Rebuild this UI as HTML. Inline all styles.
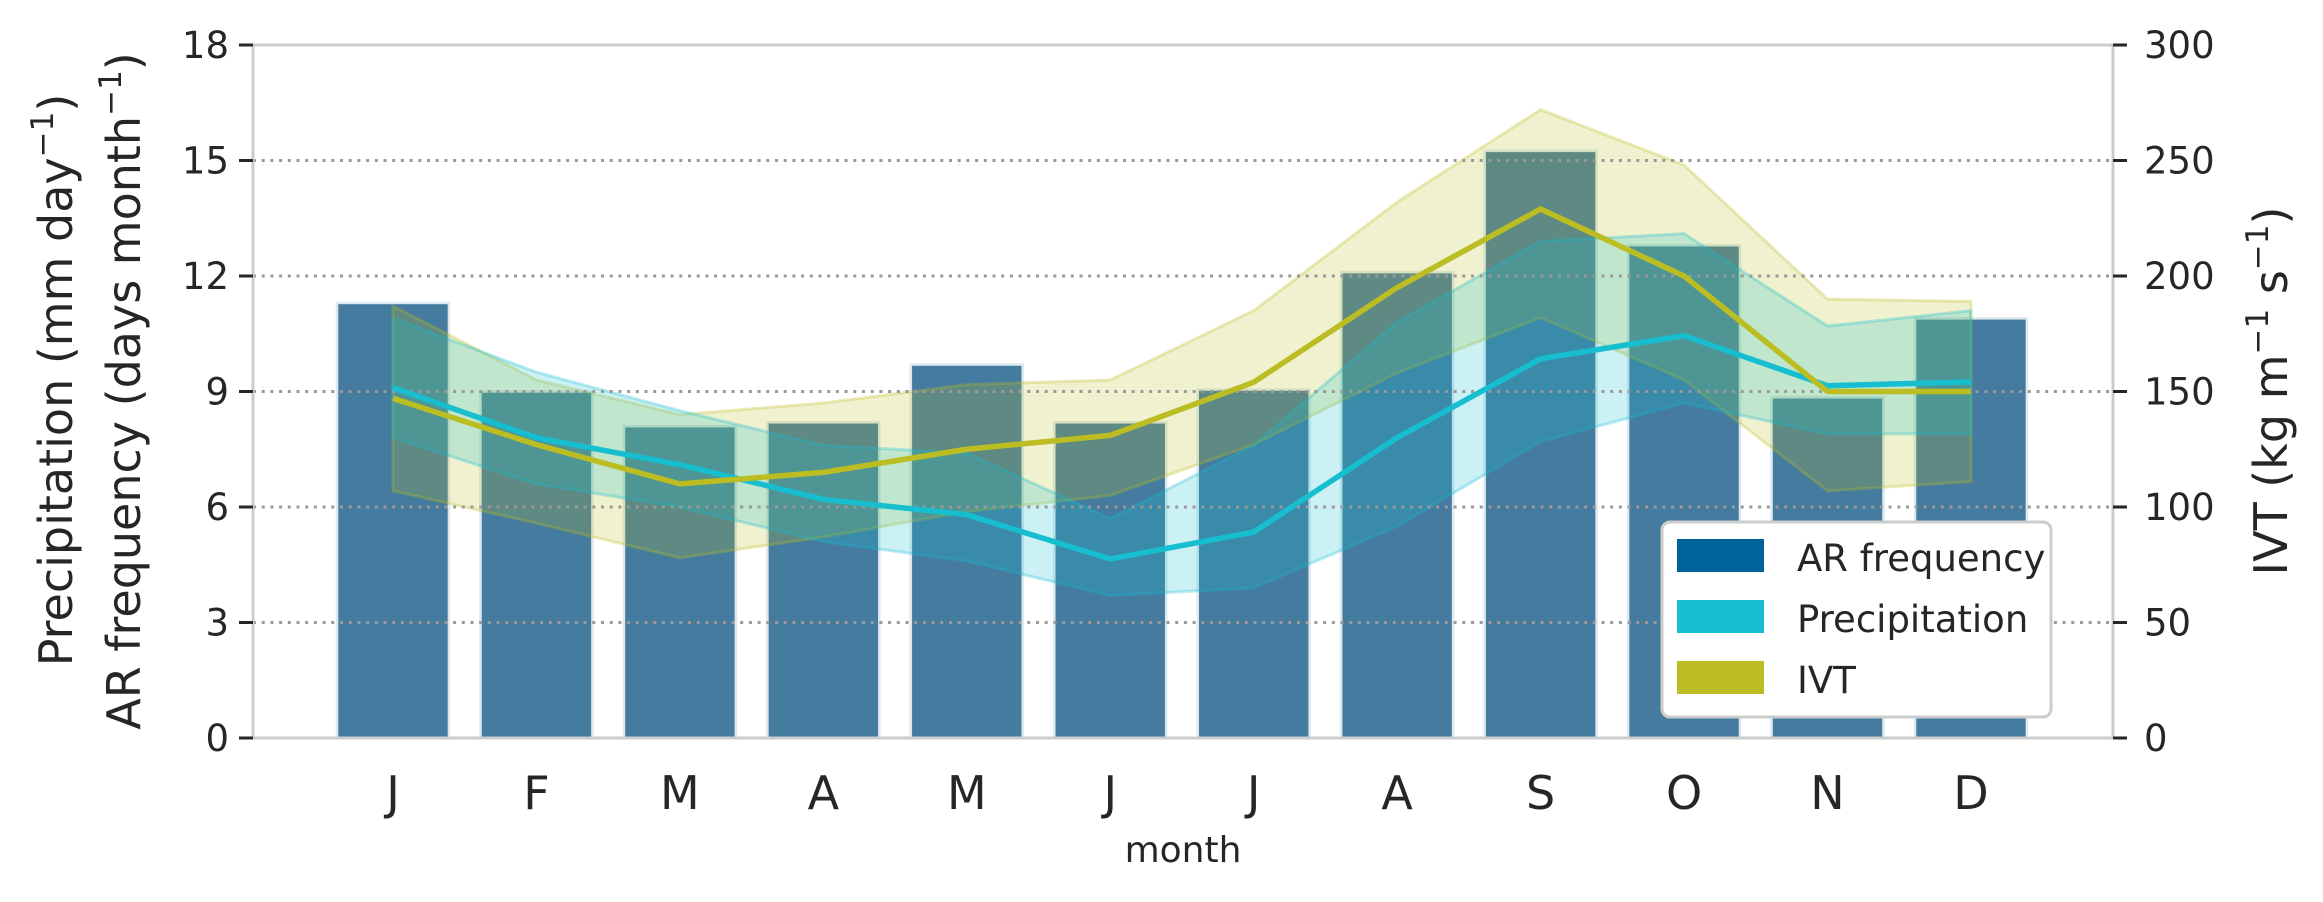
<!DOCTYPE html>
<html><head><meta charset="utf-8"><style>
html,body{margin:0;padding:0;background:#fff;}
svg{display:block;font-family:"DejaVu Sans","Liberation Sans",sans-serif;}
</style></head><body>
<svg id="chart" width="2323" height="902" viewBox="0 0 2323 902" xmlns="http://www.w3.org/2000/svg">
<rect x="0" y="0" width="2323" height="902" fill="#fff"/>
<g id="bars"></g>
<g id="fills"></g>
<g id="grid"></g>
<g id="lines"></g>
<rect x="253" y="45" width="1860" height="693" fill="none" stroke="#cccccc" stroke-width="3"/>
<g id="axes"></g>
<text x="1183" y="862" font-size="36" text-anchor="middle" fill="#262626">month</text>
<text transform="translate(72,380) rotate(-90)" font-size="46" text-anchor="middle" fill="#262626">Precipitation (mm day<tspan font-size="31" dy="-19">−1</tspan><tspan dy="19">)</tspan></text>
<text transform="translate(140,391) rotate(-90)" font-size="46" text-anchor="middle" fill="#262626">AR frequency (days month<tspan font-size="31" dy="-19">−1</tspan><tspan dy="19">)</tspan></text>
<text transform="translate(2287,391) rotate(-90)" font-size="46" text-anchor="middle" fill="#262626">IVT (kg m<tspan font-size="31" dy="-19">−1</tspan><tspan dy="19"> s</tspan><tspan font-size="31" dy="-19">−1</tspan><tspan dy="19">)</tspan></text>
<g>
<rect x="1662" y="522" width="389" height="195" rx="8" fill="#fff" stroke="#cccccc" stroke-width="3"/>
<rect x="1677" y="539" width="87" height="33" fill="#00629b"/>
<text x="1797" y="571" font-size="37" fill="#262626">AR frequency</text>
<rect x="1677" y="600" width="87" height="33" fill="#17becf"/>
<text x="1797" y="632" font-size="37" fill="#262626">Precipitation</text>
<rect x="1677" y="661" width="87" height="33" fill="#bcbd22"/>
<text x="1797" y="693" font-size="37" fill="#262626">IVT</text>
</g>
</svg>
<script>
const months = ["J","F","M","A","M","J","J","A","S","O","N","D"];
const arFreq = [11.3,9.0,8.1,8.2,9.7,8.2,9.05,12.1,15.25,12.8,8.85,10.9];
const precip = [9.1,7.8,7.1,6.2,5.8,4.65,5.35,7.8,9.85,10.45,9.15,9.25];
const precipHi = [10.9,9.5,8.5,7.6,7.4,5.7,7.6,10.8,12.9,13.1,10.7,11.1];
const precipLo = [7.8,6.6,6.0,5.1,4.6,3.7,3.9,5.5,7.7,8.7,7.9,7.9];
const ivt = [147,127,110,115,125,131,154,195,229,200,150,150];
const ivtHi = [187,155,140,145,153,155,185,232,272,248,190,189];
const ivtLo = [107,93,78,87,98,105,127,158,182,155,107,111];
const leftTicks = [0,3,6,9,12,15,18];
const rightTicks = [0,50,100,150,200,250,300];

const NS="http://www.w3.org/2000/svg";
const X0=393, DX=143.45, YB=738, YT=45;
const xs=i=>X0+i*DX;
const yL=v=>YB-(v/18)*(YB-YT);
const yR=v=>YB-(v/300)*(YB-YT);
function mk(tag,attrs,parent){const e=document.createElementNS(NS,tag);for(const k in attrs)e.setAttribute(k,attrs[k]);parent.appendChild(e);return e;}
const gB=document.getElementById('bars'),gF=document.getElementById('fills'),gG=document.getElementById('grid'),gL=document.getElementById('lines'),gA=document.getElementById('axes');
const bw=0.78*DX;
arFreq.forEach((v,i)=>{
  const r=mk('rect',{x:xs(i)-bw/2,y:yL(v),width:bw,height:YB-yL(v),fill:'#447b9f',stroke:'#dde8ef','stroke-width':2.5},gB);
  
  
});
function band(hi,lo,fy,color,name){
  let d='M'+hi.map((v,i)=>xs(i)+','+fy(v)).join(' L');
  for(let i=lo.length-1;i>=0;i--)d+=' L'+xs(i)+','+fy(lo[i]);
  d+='Z';
  const p=mk('path',{d:d,fill:color,'fill-opacity':0.22,stroke:color,'stroke-opacity':0.3,'stroke-width':3},gF);
  
  
}
band(ivtHi,ivtLo,yR,'#bcbd22','ivt-band');
band(precipHi,precipLo,yL,'#17becf','precipitation-band');
leftTicks.forEach(t=>{
  if(t>0&&t<18){const l=mk('line',{x1:253,x2:2113,y1:yL(t),y2:yL(t),stroke:'#999','stroke-width':3,'stroke-dasharray':'3 5.7'},gG);
  
  }
  const tk=mk('line',{x1:239,x2:253,y1:yL(t),y2:yL(t),stroke:'#262626','stroke-width':3},gA);
  
  
  const tx=mk('text',{x:229,y:yL(t)+13,'font-size':37,'text-anchor':'end',fill:'#262626'},gA);
  
  
  tx.textContent=t;
});
rightTicks.forEach(t=>{
  const tk=mk('line',{x1:2113,x2:2127,y1:yR(t),y2:yR(t),stroke:'#262626','stroke-width':3},gA);
  
  
  const tx=mk('text',{x:2144,y:yR(t)+13,'font-size':37,fill:'#262626'},gA);
  
  
  tx.textContent=t;
});
months.forEach((m,i)=>{
  const tx=mk('text',{x:xs(i),y:809,'font-size':46,'text-anchor':'middle',fill:'#262626'},gA);
  
  
  tx.textContent=m;
});
function line(vals,fy,color,name){
  const p=mk('polyline',{points:vals.map((v,i)=>xs(i)+','+fy(v)).join(' '),fill:'none',stroke:color,'stroke-width':5.5,'stroke-linejoin':'round'},gL);
  
  
}
line(precip,yL,'#17becf','precipitation-line');
line(ivt,yR,'#bcbd22','ivt-line');
</script>
</body></html>
